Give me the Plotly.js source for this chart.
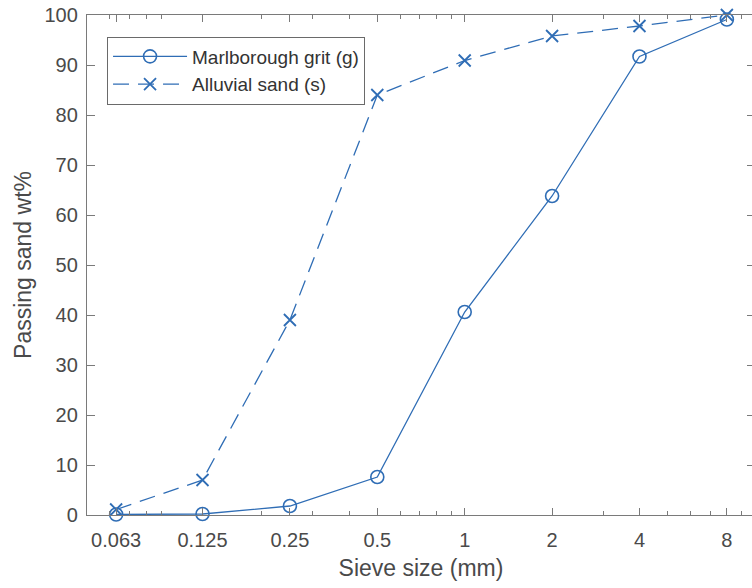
<!DOCTYPE html>
<html>
<head>
<meta charset="utf-8">
<script src="https://cdn.plot.ly/plotly-3.0.1.min.js"></script>
<style>
html,body{margin:0;padding:0;overflow:hidden;background:#fff;width:752px;height:588px;}
#chart{width:760px;height:588px;}
</style>
</head>
<body>
<div id="chart"></div>
<script>
const sieveSizes = [0.063, 0.125, 0.25, 0.5, 1, 2, 4, 8];
const tickLabels = ["0.063", "0.125", "0.25", "0.5", "1", "2", "4", "8"];
const minorTicks = [0.06, 0.07, 0.08, 0.09, 0.2, 0.3, 0.4, 0.6, 0.7, 0.8, 0.9, 3, 5, 6, 7, 9];
const grit = [0.1, 0.2, 1.8, 7.6, 40.6, 63.8, 91.7, 99.1];
const sand = [1.1, 7.0, 39.0, 84.0, 90.9, 95.8, 97.8, 100.0];
const yTicks = [0, 10, 20, 30, 40, 50, 60, 70, 80, 90, 100];

const blue = '#2f6db5';
const axisColor = '#7a7a7a';
const textColor = '#4a4a4a';

const traces = [
  {
    x: sieveSizes, y: grit, name: 'Marlborough grit (g)', type: 'scatter', mode: 'lines+markers',
    line: {color: blue, width: 1.3},
    marker: {symbol: 'circle-open', size: 13, color: blue, line: {width: 1.6, color: blue}},
    cliponaxis: false
  },
  {
    x: sieveSizes, y: sand, name: 'Alluvial sand (s)', type: 'scatter', mode: 'lines+markers',
    line: {color: blue, width: 1.3, dash: '16px,9px'},
    marker: {symbol: 'x-thin-open', size: 12, color: blue, line: {width: 1.8, color: blue}},
    cliponaxis: false
  }
];

const layout = {
  width: 760, height: 588,
  margin: {l: 87, r: 5, t: 15, b: 73},
  paper_bgcolor: '#fff', plot_bgcolor: '#fff',
  font: {family: '"Liberation Sans", Arial, sans-serif', color: textColor, size: 20},
  showlegend: true,
  legend: {
    x: 0.03, y: 0.957, xanchor: 'left', yanchor: 'top',
    bgcolor: '#fff', bordercolor: '#6a6a6a', borderwidth: 1,
    font: {size: 19, color: '#333'},
    itemwidth: 74, tracegroupgap: 0
  },
  xaxis: {
    type: 'log', range: [Math.log10(0.05), Math.log10(10)],
    tickmode: 'array', tickvals: sieveSizes, ticktext: tickLabels,
    ticks: 'inside', ticklen: 7, tickwidth: 1, tickcolor: axisColor,
    showline: true, linecolor: axisColor, linewidth: 1.2, mirror: 'ticks',
    showgrid: false, zeroline: false,
    ticklabelstandoff: 7,
    minor: {tickmode: 'array', tickvals: minorTicks, ticks: 'inside', ticklen: 4, tickcolor: axisColor, showgrid: false},
    tickfont: {size: 20, color: textColor},
    title: {text: 'Sieve size (mm)', font: {size: 23, color: textColor}, standoff: 9},
    automargin: false
  },
  yaxis: {
    range: [0, 100], tickmode: 'array', tickvals: yTicks,
    ticks: 'inside', ticklen: 8, tickwidth: 1, tickcolor: axisColor,
    showline: true, linecolor: axisColor, linewidth: 1.2, mirror: 'ticks',
    showgrid: false, zeroline: false,
    ticklabelstandoff: 4,
    tickfont: {size: 20, color: textColor},
    title: {text: 'Passing sand wt%', font: {size: 23, color: textColor}}
  }
};

Plotly.newPlot('chart', traces, layout, {displayModeBar: false, staticPlot: true});
</script>
</body>
</html>
